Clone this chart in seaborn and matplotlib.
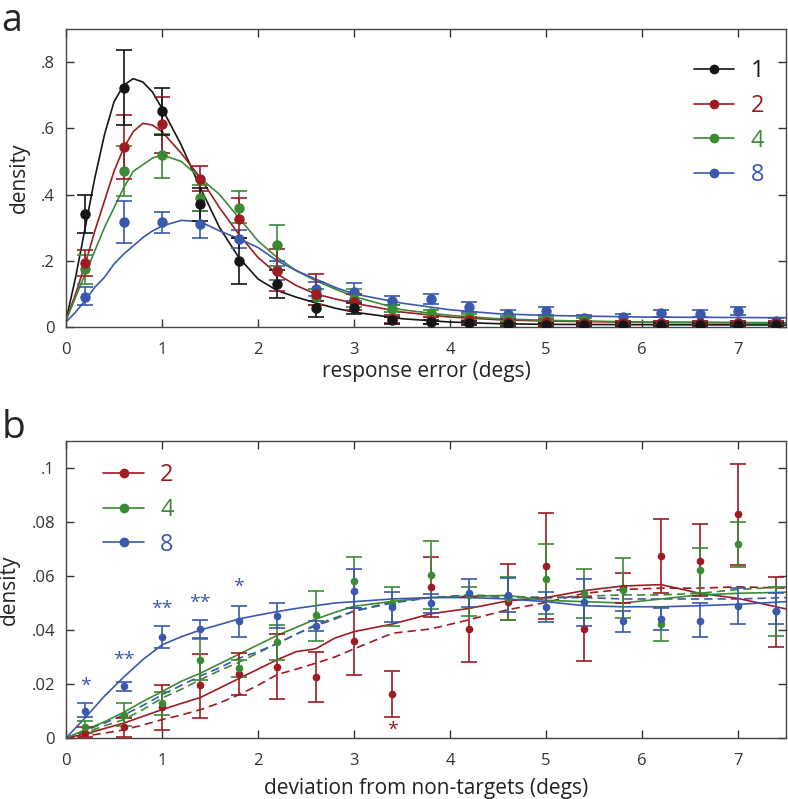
import numpy as np
import pandas as pd
import seaborn as sns
import matplotlib.pyplot as plt
from matplotlib.ticker import FuncFormatter
from matplotlib.lines import Line2D

sns.set_style("ticks")
plt.rcParams['font.family'] = ['Open Sans', 'DejaVu Sans']

# cores
c_black = '#151515'
c_red = '#9E1B22'
c_green = '#3B8A36'
c_blue = '#3A59AC'

x_bins = [0.2, 0.6, 1.0, 1.4, 1.8, 2.2, 2.6, 3.0, 3.4, 3.8, 4.2, 4.6, 5.0, 5.4, 5.8, 6.2, 6.6, 7.0, 7.4]

# ---- painel a: pontos com barras de erro ----
a_black = [0.342, 0.723, 0.651, 0.37, 0.199, 0.131, 0.056, 0.056, 0.02, 0.015, 0.012, 0.008, 0.007, 0.007, 0.007, 0.007, 0.007, 0.007, 0.007]
a_black_lo = [0.284, 0.61, 0.58, 0.32, 0.131, 0.088, 0.031, 0.04, 0.01, 0.008, 0.006, 0.004, 0.003, 0.003, 0.003, 0.003, 0.003, 0.003, 0.003]
a_black_hi = [0.40, 0.837, 0.722, 0.42, 0.27, 0.172, 0.08, 0.072, 0.03, 0.022, 0.018, 0.012, 0.011, 0.011, 0.011, 0.011, 0.011, 0.011, 0.011]

a_red = [0.193, 0.543, 0.612, 0.448, 0.327, 0.17, 0.1, 0.076, 0.023, 0.02, 0.02, 0.016, 0.016, 0.012, 0.012, 0.012, 0.012, 0.012, 0.012]
a_red_lo = [0.153, 0.446, 0.525, 0.41, 0.27, 0.11, 0.066, 0.05, 0.012, 0.01, 0.01, 0.008, 0.008, 0.006, 0.006, 0.006, 0.006, 0.006, 0.006]
a_red_hi = [0.233, 0.639, 0.694, 0.487, 0.39, 0.236, 0.159, 0.1, 0.035, 0.03, 0.03, 0.025, 0.025, 0.018, 0.018, 0.018, 0.018, 0.018, 0.018]

a_green = [0.175, 0.472, 0.518, 0.39, 0.36, 0.247, 0.09, 0.085, 0.055, 0.041, 0.03, 0.025, 0.022, 0.02, 0.013, 0.013, 0.013, 0.013, 0.013]
a_green_lo = [0.129, 0.397, 0.45, 0.35, 0.314, 0.185, 0.065, 0.06, 0.045, 0.03, 0.02, 0.017, 0.015, 0.013, 0.008, 0.008, 0.008, 0.008, 0.008]
a_green_hi = [0.218, 0.548, 0.584, 0.43, 0.41, 0.307, 0.115, 0.115, 0.065, 0.05, 0.04, 0.033, 0.03, 0.027, 0.018, 0.018, 0.018, 0.018, 0.018]

a_blue = [0.09, 0.317, 0.317, 0.31, 0.265, 0.172, 0.115, 0.107, 0.08, 0.085, 0.061, 0.038, 0.048, 0.026, 0.029, 0.041, 0.04, 0.048, 0.019]
a_blue_lo = [0.065, 0.255, 0.285, 0.27, 0.24, 0.142, 0.095, 0.08, 0.067, 0.068, 0.046, 0.026, 0.036, 0.016, 0.019, 0.03, 0.029, 0.036, 0.01]
a_blue_hi = [0.121, 0.382, 0.346, 0.35, 0.292, 0.2, 0.135, 0.134, 0.095, 0.1, 0.076, 0.05, 0.06, 0.036, 0.039, 0.052, 0.051, 0.06, 0.028]

# ---- painel a: curvas do modelo ----
a_fit_x = [0, 0.1, 0.2, 0.3, 0.4, 0.5, 0.6, 0.7, 0.8, 0.9, 1.0, 1.2, 1.4, 1.6, 1.8, 2.0, 2.2, 2.4, 2.6, 2.8, 3.0, 3.5, 4.0, 4.5, 5.0, 6.0, 7.5]
a_fit_black = [0.02, 0.15, 0.30, 0.45, 0.58, 0.68, 0.73, 0.75, 0.74, 0.71, 0.66, 0.55, 0.42, 0.30, 0.21, 0.145, 0.11, 0.09, 0.073, 0.057, 0.045, 0.025, 0.015, 0.01, 0.008, 0.007, 0.006]
a_fit_red = [0.02, 0.1, 0.19, 0.29, 0.38, 0.47, 0.54, 0.59, 0.615, 0.61, 0.59, 0.525, 0.45, 0.36, 0.28, 0.21, 0.16, 0.125, 0.1, 0.085, 0.072, 0.045, 0.03, 0.022, 0.018, 0.014, 0.012]
a_fit_green = [0.02, 0.09, 0.16, 0.23, 0.30, 0.36, 0.42, 0.47, 0.49, 0.51, 0.52, 0.50, 0.45, 0.40, 0.33, 0.26, 0.21, 0.17, 0.14, 0.115, 0.092, 0.052, 0.035, 0.025, 0.02, 0.015, 0.013]
a_fit_blue = [0.015, 0.045, 0.08, 0.12, 0.15, 0.19, 0.22, 0.245, 0.27, 0.29, 0.305, 0.322, 0.318, 0.29, 0.267, 0.24, 0.2, 0.17, 0.145, 0.12, 0.10, 0.072, 0.052, 0.04, 0.035, 0.03, 0.028]

# ---- painel b: pontos ----
b_red = [0.002, 0.004, 0.0115, 0.0195, 0.0237, 0.0264, 0.0227, 0.0359, 0.0162, 0.056, 0.0404, 0.0505, 0.0638, 0.0404, 0.0554, 0.0674, 0.0657, 0.083, 0.047]
b_red_lo = [0.0005, 0.0003, 0.0031, 0.0074, 0.0158, 0.0144, 0.0133, 0.0233, 0.0077, 0.0447, 0.0281, 0.0438, 0.044, 0.0285, 0.0499, 0.0536, 0.0525, 0.064, 0.0338]
b_red_hi = [0.004, 0.0074, 0.0198, 0.031, 0.0313, 0.0386, 0.0319, 0.0483, 0.0247, 0.0669, 0.0523, 0.0643, 0.0834, 0.0523, 0.0611, 0.0812, 0.0794, 0.1015, 0.0598]

b_green = [0.004, 0.0086, 0.013, 0.029, 0.0258, 0.0354, 0.0454, 0.0583, 0.050, 0.0604, 0.053, 0.052, 0.059, 0.0536, 0.055, 0.0423, 0.0621, 0.0719, 0.047]
b_green_lo = [0.002, 0.0046, 0.0086, 0.0215, 0.0225, 0.0289, 0.036, 0.048, 0.0415, 0.0477, 0.0452, 0.0438, 0.046, 0.0443, 0.0445, 0.036, 0.0536, 0.0635, 0.0377]
b_green_hi = [0.0062, 0.013, 0.017, 0.0368, 0.0289, 0.042, 0.0546, 0.0669, 0.0559, 0.0729, 0.0561, 0.0595, 0.0719, 0.0627, 0.0666, 0.0486, 0.0705, 0.080, 0.0559]

b_blue = [0.0101, 0.0191, 0.0375, 0.0404, 0.0435, 0.0452, 0.0415, 0.0543, 0.0486, 0.0499, 0.0536, 0.053, 0.0484, 0.0505, 0.0432, 0.044, 0.0435, 0.049, 0.0469]
b_blue_lo = [0.0077, 0.0174, 0.0332, 0.037, 0.0375, 0.0407, 0.0395, 0.048, 0.0429, 0.0462, 0.0486, 0.0465, 0.0429, 0.0415, 0.0392, 0.040, 0.0373, 0.0421, 0.0421]
b_blue_hi = [0.0128, 0.0207, 0.0416, 0.0437, 0.049, 0.0499, 0.0435, 0.0625, 0.0541, 0.0535, 0.0588, 0.0593, 0.054, 0.059, 0.0472, 0.048, 0.050, 0.0557, 0.0536]

# ---- painel b: curvas (solida e tracejada) ----
b_fit_x = [0, 0.2, 0.4, 0.6, 0.8, 1.0, 1.2, 1.4, 1.6, 1.8, 2.0, 2.2, 2.4, 2.6, 2.8, 3.0, 3.4, 3.8, 4.2, 4.6, 5.0, 5.4, 5.8, 6.2, 6.6, 7.0, 7.5]
b_blue_solid = [0, 0.0075, 0.0155, 0.0225, 0.029, 0.0345, 0.0375, 0.040, 0.042, 0.0441, 0.0455, 0.0468, 0.048, 0.049, 0.050, 0.0505, 0.0515, 0.052, 0.052, 0.0515, 0.0505, 0.049, 0.0486, 0.0486, 0.049, 0.0495, 0.0505]
b_blue_dash = [0, 0.0028, 0.0055, 0.0085, 0.012, 0.016, 0.0195, 0.023, 0.026, 0.0295, 0.032, 0.035, 0.0385, 0.0416, 0.044, 0.047, 0.050, 0.052, 0.0528, 0.052, 0.052, 0.052, 0.0515, 0.0515, 0.0515, 0.0515, 0.052]
b_green_solid = [0, 0.003, 0.006, 0.0095, 0.0135, 0.0172, 0.021, 0.024, 0.0275, 0.031, 0.0345, 0.038, 0.041, 0.044, 0.0465, 0.0488, 0.0506, 0.052, 0.0525, 0.0528, 0.051, 0.0505, 0.050, 0.0515, 0.053, 0.0536, 0.054]
b_green_dash = [0, 0.002, 0.0045, 0.0068, 0.0105, 0.0148, 0.018, 0.0216, 0.025, 0.028, 0.0315, 0.035, 0.0385, 0.042, 0.0445, 0.047, 0.0505, 0.052, 0.053, 0.0525, 0.052, 0.0525, 0.053, 0.053, 0.0536, 0.055, 0.056]
b_red_solid = [0, 0.0015, 0.0035, 0.0055, 0.008, 0.0105, 0.0128, 0.015, 0.0185, 0.022, 0.0255, 0.029, 0.032, 0.033, 0.037, 0.0394, 0.0422, 0.046, 0.048, 0.0508, 0.052, 0.0546, 0.0563, 0.0568, 0.0536, 0.0517, 0.0478]
b_red_dash = [0, 0.0007, 0.0018, 0.003, 0.0048, 0.0068, 0.0085, 0.0105, 0.013, 0.016, 0.0195, 0.0235, 0.0255, 0.0277, 0.030, 0.033, 0.0388, 0.0404, 0.0438, 0.0475, 0.0502, 0.0536, 0.055, 0.0555, 0.0555, 0.056, 0.0555]

# asteriscos de significancia
star_blue_x = [0.2, 0.6, 1.0, 1.4, 1.8]
star_blue_y = [0.0194, 0.029, 0.048, 0.050, 0.0558]
star_blue_txt = ['*', '**', '**', '**', '*']
star_red_x = [3.4]
star_red_y = [0.003]
star_red_txt = ['*']

fig = plt.figure(figsize=(7.88, 7.99), dpi=100)
ax_a = fig.add_axes([66/788, 1-327/799, 720/788, 298/799])
ax_b = fig.add_axes([66/788, 1-738/799, 720/788, 297/799])

fmt = FuncFormatter(lambda v, p: '0' if abs(v) < 1e-12 else f"{v:g}".lstrip('0'))


def draw_errs(ax, x, y, lo, hi, color, ms, cap):
    y = np.array(y)
    yerr = [y - np.array(lo), np.array(hi) - y]
    ax.errorbar(x, y, yerr=yerr, fmt='o', color=color, ms=ms, capsize=cap,
                elinewidth=1.2, capthick=1.2, zorder=3)


# painel a
for fit, c in [(a_fit_black, c_black), (a_fit_red, c_red), (a_fit_green, c_green), (a_fit_blue, c_blue)]:
    sns.lineplot(x=a_fit_x, y=fit, color=c, linewidth=1.2, ax=ax_a, sort=False)
for y, lo, hi, c in [(a_blue, a_blue_lo, a_blue_hi, c_blue), (a_green, a_green_lo, a_green_hi, c_green),
                     (a_red, a_red_lo, a_red_hi, c_red), (a_black, a_black_lo, a_black_hi, c_black)]:
    draw_errs(ax_a, x_bins, y, lo, hi, c, 6.5, 6)

# painel b
dash = (0, (5, 3))
for fit, c, ls in [(b_red_dash, c_red, dash), (b_green_dash, c_green, dash), (b_blue_dash, c_blue, dash),
                   (b_red_solid, c_red, '-'), (b_green_solid, c_green, '-'), (b_blue_solid, c_blue, '-')]:
    sns.lineplot(x=b_fit_x, y=fit, color=c, linewidth=1.2, linestyle=ls, ax=ax_b, sort=False)
for y, lo, hi, c in [(b_red, b_red_lo, b_red_hi, c_red), (b_green, b_green_lo, b_green_hi, c_green),
                     (b_blue, b_blue_lo, b_blue_hi, c_blue)]:
    draw_errs(ax_b, x_bins, y, lo, hi, c, 4.5, 6)

for xs, ys, t in zip(star_blue_x, star_blue_y, star_blue_txt):
    ax_b.text(xs, ys, t, color=c_blue, fontsize=14, ha='center', va='center')
for xs, ys, t in zip(star_red_x, star_red_y, star_red_txt):
    ax_b.text(xs, ys, t, color=c_red, fontsize=14, ha='center', va='center')

# eixos
ax_a.set_xlim(0, 7.5)
ax_a.set_ylim(0, 0.9)
ax_a.set_yticks([0, 0.2, 0.4, 0.6, 0.8])
ax_b.set_xlim(0, 7.5)
ax_b.set_ylim(0, 0.11)
ax_b.set_yticks([0, 0.02, 0.04, 0.06, 0.08, 0.1])
for ax in (ax_a, ax_b):
    ax.set_xticks(range(8))
    ax.yaxis.set_major_formatter(fmt)
    ax.tick_params(direction='in', top=True, right=True, length=6, width=1, colors='#333333',
                   labelsize=12, pad=8)
    ax.tick_params(axis='x', pad=11)
    for s in ax.spines.values():
        s.set_color('#444444')
        s.set_linewidth(1)
    ax.set_ylabel('density', fontsize=15, color='#222222', labelpad=8)

ax_a.set_xlabel('response error (degs)', fontsize=15, color='#222222', labelpad=2)
ax_b.set_xlabel('deviation from non-targets (degs)', fontsize=15, color='#222222', labelpad=6)

# legendas
def legend_handles(cols):
    return [Line2D([0], [0], color=c, marker='o', ms=6, lw=1.2) for c in cols]

leg_a = ax_a.legend(legend_handles([c_black, c_red, c_green, c_blue]), ['1', '2', '4', '8'],
                    loc='upper right', bbox_to_anchor=(0.97, 0.898), frameon=False, fontsize=17,
                    handlelength=1.7, labelspacing=0.45, handletextpad=0.7,
                    borderaxespad=0, borderpad=0)
for t, c in zip(leg_a.get_texts(), [c_black, c_red, c_green, c_blue]):
    t.set_color(c)

leg_b = ax_b.legend(legend_handles([c_red, c_green, c_blue]), ['2', '4', '8'],
                    loc='upper left', bbox_to_anchor=(0.052, 0.925), frameon=False, fontsize=17,
                    handlelength=1.7, labelspacing=0.45, handletextpad=0.7,
                    borderaxespad=0, borderpad=0)
for t, c in zip(leg_b.get_texts(), [c_red, c_green, c_blue]):
    t.set_color(c)

fig.text(0.002, 0.997, 'a', fontsize=27, va='top', ha='left')
fig.text(0.002, 1-438/799, 'b', fontsize=28, va='baseline', ha='left')

plt.savefig('out.png', dpi=100)
